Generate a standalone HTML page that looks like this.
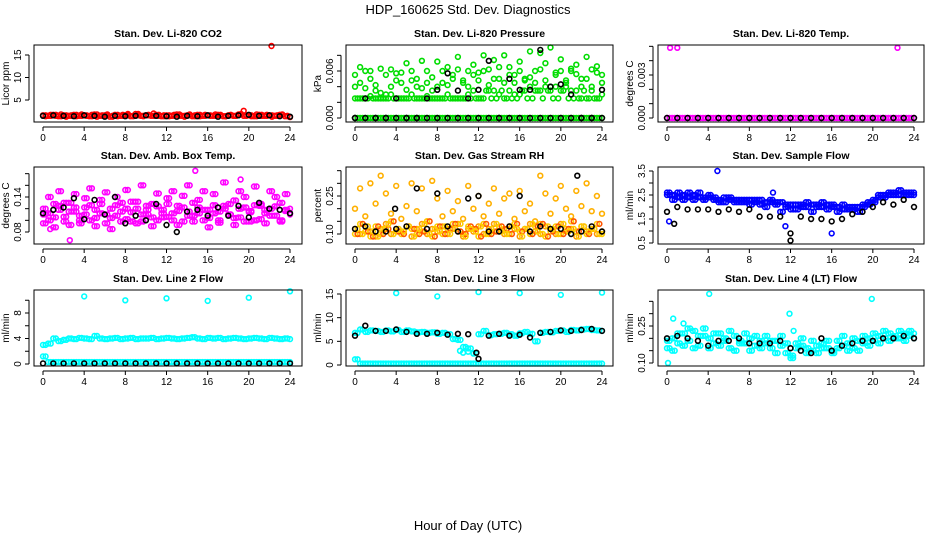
<!DOCTYPE html>
<html><head><meta charset="utf-8"><style>
body{margin:0;background:#fff;}
svg{display:block;font-family:"Liberation Sans",sans-serif;}
</style></head><body>
<svg id="chart" width="936" height="540" viewBox="0 0 936 540">
<text x="468" y="14" text-anchor="middle" font-size="13">HDP_160625  Std. Dev. Diagnostics</text>
<text x="468" y="530" text-anchor="middle" font-size="13">Hour of Day (UTC)</text>
</svg>
<script>
const H=[0,0.5,1,1.5,2,2.5,3,3.5,4,4.5,5,5.5,6,6.5,7,7.5,8,8.5,9,9.5,10,10.5,11,11.5,12,12.5,13,13.5,14,14.5,15,15.5,16,16.5,17,17.5,18,18.5,19,19.5,20,20.5,21,21.5,22,22.5,23,23.5,24];
const Hq=[0.25,0.75,1.25,1.75,2.25,2.75,3.25,3.75,4.25,4.75,5.25,5.75,6.25,6.75,7.25,7.75,8.25,8.75,9.25,9.75,10.25,10.75,11.25,11.75,12.25,12.75,13.25,13.75,14.25,14.75,15.25,15.75,16.25,16.75,17.25,17.75,18.25,18.75,19.25,19.75,20.25,20.75,21.25,21.75,22.25,22.75,23.25,23.75];
const H1=[0,1,2,3,4,5,6,7,8,9,10,11,12,13,14,15,16,17,18,19,20,21,22,23,24];
const co2Red=[1.6,1.5,1.7,1.4,1.6,1.5,1.7,1.5,1.6,1.4,1.8,1.5,1.6,1.3,1.7,1.5,1.6,1.4,1.9,1.5,1.6,1.5,1.7,1.4,1.6,1.5,1.8,1.5,1.6,1.4,1.7,1.5,1.6,1.5,1.7,1.4,1.6,1.5,1.8,1.5,1.6,1.4,1.7,1.5,1.6,1.5,1.7,1.4,1.2];
const co2Red2=[1.4,1.7,1.5,1.8,1.3,1.6,1.4,1.8,1.5,1.7,1.3,1.6,1.8,1.5,1.4,1.7,1.9,1.5,1.6,1.4,1.7,2.0,1.5,1.6,1.4,1.7,1.5,1.3,1.8,1.6,1.4,1.7,1.5,1.8,1.6,1.4,1.7,1.5,1.9,1.6,1.4,1.8,1.5,1.7,1.3,1.6,1.8,1.5];
const co2Black=[1.5,1.6,1.5,1.4,1.6,1.5,1.3,1.5,1.4,1.5,1.6,1.5,1.4,1.3,1.5,1.4,1.6,1.3,1.5,1.6,1.7,1.5,1.6,1.4,1.3];
const co2OutX=[19.5,22.2], co2OutY=[2.6,17.0];
const presZero=[0,0,0,0,0,0,0,0,0,0,0,0,0,0,0,0,0,0,0,0,0,0,0,0,0,0,0,0,0,0,0,0,0,0,0,0,0,0,0,0,0,0,0,0,0,0,0,0,0];
const presBand=[0.0025,0.0025,0.0025,0.0028,0.0025,0.0025,0.0025,0.0030,0.0025,0.0025,0.0025,0.0030,0.0025,0.0025,0.0028,0.0025,0.0025,0.0025,0.0030,0.0025,0.0025,0.0025,0.0030,0.0035,0.0025,0.0025,0.0035,0.0035,0.0030,0.0025,0.0035,0.0030,0.0030,0.0035,0.0040,0.0035,0.0035,0.0040,0.0035,0.0040,0.0035,0.0040,0.0035,0.0035,0.0025,0.0025,0.0035,0.0025,0.0030];
const presBand2=[0.0025,0.0025,0.0025,0.0025,0.0025,0.0025,0.0025,0.0025,0.0025,0.0025,0.0025,0.0025,0.0025,0.0025,0.0025,0.0025,0.0025,0.0025,0.0025,0.0025,0.0025,0.0025,0.0025,0.0025,0.0025,0.0035,0.0025,0.0025,0.0035,0.0025,0.0025,0.0025,0.0035,0.0025,0.0025,0.0035,0.0025,0.0035,0.0025,0.0025,0.0035,0.0025,0.0025,0.0025,0.0035,0.0025,0.0025,0.0025];
const presScatter=[0.0055,0.0065,0.0060,0.0050,0.0035,0.0063,0.0030,0.0062,0.0057,0.0045,0.0070,0.0048,0.0040,0.0073,0.0060,0.0035,0.0072,0.0045,0.0065,0.0055,0.0078,0.0048,0.0060,0.0068,0.0058,0.0080,0.0062,0.0074,0.0050,0.0080,0.0065,0.0055,0.0072,0.0050,0.0085,0.0060,0.0083,0.0070,0.0090,0.0058,0.0075,0.0045,0.0060,0.0068,0.0050,0.0078,0.0040,0.0066,0.0055];
const presScatter2=[0.0040,0.0045,0.0038,0.0060,0.0042,0.0032,0.0055,0.0040,0.0048,0.0058,0.0036,0.0060,0.0050,0.0038,0.0045,0.0052,0.0040,0.0060,0.0042,0.0050,0.0062,0.0045,0.0040,0.0055,0.0048,0.0060,0.0042,0.0050,0.0065,0.0045,0.0055,0.0045,0.0060,0.0048,0.0052,0.0045,0.0062,0.0048,0.0040,0.0055,0.0060,0.0048,0.0063,0.0056,0.0040,0.0050,0.0062,0.0058,0.0045];
const presBlack=[0,0.0025,0,0,0.0025,0,0,0.0025,0.0036,0.0057,0.0035,0.0025,0.0036,0.0073,0,0.0050,0.0036,0.0036,0.0087,0.0040,0.0043,0.0030,0,0,0.0036];
const presBlackZero=[0,0,0,0,0,0,0,0,0,0,0,0,0,0,0,0,0,0,0,0,0,0,0,0,0];
const tempOutX=[0.3,1.0,22.4], tempOutY=[0.0049,0.0049,0.0049];
const amb1=[0.120,0.112,0.105,0.125,0.098,0.130,0.115,0.108,0.122,0.100,0.118,0.135,0.110,0.104,0.126,0.115,0.120,0.098,0.132,0.110,0.118,0.105,0.124,0.112,0.128,0.100,0.116,0.122,0.108,0.130,0.112,0.118,0.104,0.126,0.115,0.120,0.110,0.134,0.105,0.122,0.116,0.100,0.128,0.112,0.120,0.108,0.130,0.118,0.112];
const amb2=[0.095,0.140,0.088,0.150,0.130,0.092,0.145,0.100,0.138,0.155,0.090,0.128,0.148,0.085,0.140,0.098,0.152,0.132,0.095,0.160,0.125,0.090,0.146,0.105,0.138,0.150,0.092,0.142,0.160,0.098,0.135,0.150,0.088,0.145,0.100,0.165,0.128,0.092,0.150,0.140,0.098,0.158,0.125,0.095,0.150,0.140,0.100,0.145,0.120];
const amb3=[0.110,0.100,0.128,0.118,0.106,0.115,0.122,0.095,0.110,0.126,0.104,0.112,0.095,0.120,0.108,0.130,0.102,0.114,0.120,0.098,0.110,0.128,0.100,0.118,0.106,0.112,0.125,0.098,0.115,0.108,0.122,0.100,0.118,0.112,0.096,0.125,0.110,0.104,0.120,0.098,0.114,0.126,0.102,0.118,0.108,0.124,0.098,0.116,0.110];
const ambOutX=[2.6,14.8,19.2,0.7], ambOutY=[0.066,0.185,0.170,0.085];
const ambBlack=[0.112,0.118,0.122,0.138,0.102,0.135,0.110,0.140,0.095,0.108,0.100,0.128,0.092,0.080,0.115,0.118,0.108,0.122,0.108,0.125,0.105,0.130,0.120,0.118,0.112];
const rh1=[0.12,0.10,0.13,0.11,0.09,0.12,0.14,0.10,0.12,0.11,0.13,0.09,0.12,0.14,0.10,0.12,0.11,0.13,0.10,0.12,0.14,0.09,0.12,0.11,0.13,0.10,0.12,0.14,0.11,0.10,0.13,0.12,0.09,0.12,0.14,0.11,0.10,0.13,0.12,0.10,0.14,0.11,0.12,0.09,0.13,0.11,0.12,0.10,0.11];
const rh2=[0.10,0.14,0.11,0.09,0.13,0.10,0.12,0.15,0.11,0.10,0.13,0.12,0.10,0.11,0.15,0.09,0.13,0.10,0.12,0.14,0.11,0.10,0.13,0.12,0.09,0.14,0.10,0.11,0.13,0.12,0.10,0.14,0.11,0.12,0.10,0.13,0.14,0.09,0.11,0.13,0.10,0.12,0.15,0.11,0.13,0.10,0.12,0.14,0.10];
const rhScatter=[0.20,0.28,0.17,0.30,0.22,0.33,0.26,0.18,0.29,0.16,0.21,0.30,0.19,0.28,0.15,0.31,0.24,0.17,0.27,0.19,0.23,0.16,0.29,0.20,0.25,0.17,0.22,0.28,0.18,0.24,0.26,0.16,0.27,0.19,0.22,0.15,0.33,0.26,0.18,0.24,0.29,0.20,0.17,0.27,0.21,0.30,0.19,0.25,0.18];
const rhBlack=[0.12,0.13,0.11,0.11,0.12,0.13,0.28,0.12,0.26,0.13,0.11,0.24,0.25,0.11,0.11,0.13,0.25,0.11,0.13,0.12,0.12,0.10,0.11,0.13,0.11];
const rhBlackOutX=[21.6,3.9], rhBlackOutY=[0.33,0.20];
const sfBlue=[2.5,2.5,2.4,2.5,2.4,2.5,2.4,2.4,2.4,2.3,2.3,2.4,2.3,2.3,2.3,2.2,2.3,2.2,2.3,2.2,2.2,2.1,2.2,2.0,1.9,2.1,2.1,2.0,2.1,2.0,2.0,2.1,2.0,2.0,1.9,2.0,1.9,2.0,2.1,2.1,2.3,2.4,2.5,2.5,2.6,2.5,2.6,2.5,2.5];
const sfBlue2=[2.6,2.3,2.6,2.3,2.6,2.3,2.6,2.3,2.5,2.4,2.2,2.2,2.4,2.2,2.2,2.3,2.1,2.3,2.1,2.0,2.3,2.2,1.8,2.1,2.1,1.9,2.0,2.2,1.8,2.1,2.2,1.9,2.1,1.8,2.1,1.9,2.0,1.8,2.0,2.2,2.2,2.5,2.4,2.6,2.5,2.7,2.5,2.6,2.6];
const sfOutX=[0.2,4.9,10.3,16.0,11.5], sfOutY=[1.4,3.5,2.6,0.9,1.2];
const sfBlack=[1.8,2.0,1.9,1.9,1.9,1.8,1.9,1.8,1.9,1.6,1.6,1.6,0.9,1.6,1.5,1.5,1.4,1.5,1.7,1.8,2.0,2.2,2.1,2.3,2.0];
const sfBlackOutX=[12,0.7], sfBlackOutY=[0.6,1.3];
const l2Band=[3.0,3.2,4.0,3.6,3.8,4.0,3.9,4.1,4.0,3.9,4.4,4.0,3.9,4.0,4.1,3.9,4.0,4.1,3.9,4.0,4.0,4.1,3.9,4.0,4.1,4.0,3.9,4.0,4.1,4.2,4.0,3.9,4.1,4.0,4.1,3.9,4.0,4.1,4.0,3.9,4.0,4.1,4.0,3.9,4.1,4.0,3.9,4.0,3.9];
const l2Base=[1.2,0.3,0.3,0.3,0.3,0.3,0.3,0.3,0.3,0.3,0.3,0.3,0.3,0.3,0.3,0.3,0.3,0.3,0.3,0.3,0.3,0.3,0.3,0.3,0.3,0.3,0.3,0.3,0.3,0.3,0.3,0.3,0.3,0.3,0.3,0.3,0.3,0.3,0.3,0.3,0.3,0.3,0.3,0.3,0.3,0.3,0.3,0.3,0.3];
const l2OutX=[4,8,12,16,20,24], l2OutY=[10.6,10.0,10.3,9.9,10.4,11.4];
const l2Black=[0.1,0.1,0.1,0.1,0.1,0.1,0.1,0.1,0.1,0.1,0.1,0.1,0.1,0.1,0.1,0.1,0.1,0.1,0.1,0.1,0.1,0.1,0.1,0.1,0.1];
const l3Band=[6.8,7.5,7.0,7.3,7.2,7.0,7.3,7.1,7.4,7.0,7.3,7.1,6.9,7.0,6.8,6.9,6.6,6.8,6.5,5.5,5.3,3.8,3.5,2.5,6.5,7.2,6.3,6.5,6.6,6.8,6.5,6.2,6.7,7.0,6.6,5.0,6.8,7.0,6.9,7.2,7.3,7.0,7.4,7.3,7.5,7.6,7.4,7.3,7.2];
const l3Base=[1.2,0.3,0.3,0.3,0.3,0.3,0.3,0.3,0.3,0.3,0.3,0.3,0.3,0.3,0.3,0.3,0.3,0.3,0.3,0.3,0.3,0.3,0.3,0.3,0.3,0.3,0.3,0.3,0.3,0.3,0.3,0.3,0.3,0.3,0.3,0.3,0.3,0.3,0.3,0.3,0.3,0.3,0.3,0.3,0.3,0.3,0.3,0.3,0.3];
const l3OutX=[4,8,12,16,20,24,10.2,10.5,11.0,11.5], l3OutY=[15.2,14.5,15.4,15.2,14.8,15.3,3.0,2.6,2.8,2.4];
const l3Black=[6.2,8.3,7.2,7.2,7.5,7.0,6.6,6.6,6.8,6.4,6.6,6.5,1.3,6.2,6.6,6.2,6.4,5.8,6.8,7.0,7.3,7.2,7.4,7.6,7.2];
const l3BlackOutX=[11.8], l3BlackOutY=[2.6];
const l4a=[0.16,0.20,0.18,0.22,0.19,0.23,0.17,0.21,0.20,0.18,0.22,0.19,0.16,0.21,0.19,0.18,0.20,0.17,0.19,0.18,0.16,0.19,0.17,0.14,0.13,0.18,0.17,0.16,0.15,0.17,0.18,0.16,0.15,0.19,0.17,0.18,0.16,0.19,0.18,0.20,0.19,0.21,0.20,0.22,0.21,0.20,0.22,0.21,0.20];
const l4b=[0.19,0.15,0.22,0.17,0.24,0.16,0.21,0.24,0.16,0.22,0.17,0.20,0.23,0.15,0.18,0.22,0.15,0.21,0.16,0.21,0.19,0.14,0.21,0.18,0.12,0.16,0.20,0.14,0.19,0.14,0.16,0.19,0.14,0.16,0.21,0.15,0.20,0.15,0.21,0.17,0.22,0.18,0.23,0.19,0.20,0.23,0.19,0.23,0.22];
const l4OutX=[0.1,0.6,4.1,11.9,12.3,19.9,1.6], l4OutY=[0.10,0.28,0.38,0.30,0.23,0.36,0.26];
const l4Black=[0.20,0.21,0.20,0.19,0.17,0.19,0.19,0.20,0.18,0.18,0.18,0.19,0.16,0.15,0.14,0.20,0.15,0.17,0.18,0.19,0.19,0.20,0.20,0.21,0.20];
const xTicks=[0,4,8,12,16,20,24];

const NS="http://www.w3.org/2000/svg";
const svg=document.getElementById('chart');
function mk(tag,attrs,parent){const e=document.createElementNS(NS,tag);for(const k in attrs)e.setAttribute(k,attrs[k]);(parent||svg).appendChild(e);return e;}
const cols=[{l:34,r:302,x0:43,x24:290},{l:346,r:613,x0:355,x24:602},{l:658,r:924,x0:667,x24:914}];
const rows=[{t:45,b:122},{t:167,b:244},{t:290,b:366}];
const panels=[
 {name:'co2',title:'Stan. Dev. Li-820 CO2',ylab:'Licor ppm',c:0,r:0,v0:5,p0:100,v1:15,p1:55,ticks:[5,10,15],labels:['5','10','15'],
  series:[[H,co2Red,'#ff0000'],[Hq,co2Red2,'#ff0000'],[Hq,co2Red,'#ff0000'],[co2OutX,co2OutY,'#ff0000'],[H1,co2Black,'#000']]},
 {name:'pressure',title:'Stan. Dev. Li-820 Pressure',ylab:'kPa',c:1,r:0,v0:0,p0:118,v1:0.006,p1:71,ticks:[0,0.002,0.004,0.006,0.008],labels:['0.000','','','0.006',''],
  series:[[H,presZero,'#00dd00'],[Hq,presZero,'#00dd00'],[H,presBand,'#00dd00'],[Hq,presBand2,'#00dd00'],[H,presScatter2,'#00dd00'],[H,presScatter,'#00dd00'],[H1,presBlackZero,'#000'],[H1,presBlack,'#000']]},
 {name:'temp',title:'Stan. Dev. Li-820 Temp.',ylab:'degrees C',c:2,r:0,v0:0,p0:118,v1:0.003,p1:75,ticks:[0,0.001,0.002,0.003,0.004,0.005],labels:['0.000','','','0.003','',''],
  series:[[H,presZero,'#ff00ff'],[Hq,presZero,'#ff00ff'],[tempOutX,tempOutY,'#ff00ff'],[H1,presBlackZero,'#000']]},
 {name:'amb-box',title:'Stan. Dev. Amb. Box Temp.',ylab:'degrees C',c:0,r:1,v0:0.08,p0:232,v1:0.14,p1:197,ticks:[0.08,0.10,0.12,0.14,0.16,0.18],labels:['0.08','','','0.14','',''],
  series:[[H,amb2,'#ff00ff'],[H,amb1,'#ff00ff'],[H,amb3,'#ff00ff'],[Hq,amb1,'#ff00ff'],[Hq,amb3,'#ff00ff'],[Hq,amb2,'#ff00ff'],[ambOutX,ambOutY,'#ff00ff'],[H1,ambBlack,'#000']]},
 {name:'gas-rh',title:'Stan. Dev. Gas Stream RH',ylab:'percent',c:1,r:1,v0:0.10,p0:234,v1:0.25,p1:196,ticks:[0.10,0.15,0.20,0.25,0.30,0.35],labels:['0.10','','','0.25','',''],
  series:[[H,rhScatter,'#ffb000'],[H,rh1,'#ff9900'],[H,rh2,'#ffcc00'],[Hq,rh2,'#ff5500'],[Hq,rh1,'#ffcc00'],[H1,rhBlack,'#000'],[rhBlackOutX,rhBlackOutY,'#000']]},
 {name:'sample-flow',title:'Stan. Dev. Sample Flow',ylab:'ml/min',c:2,r:1,v0:0.5,p0:243,v1:3.5,p1:171,ticks:[0.5,1,1.5,2,2.5,3,3.5],labels:['0.5','','1.5','','2.5','','3.5'],
  series:[[H,sfBlue2,'#0000ff'],[H,sfBlue,'#0000ff'],[Hq,sfBlue,'#0000ff'],[Hq,sfBlue2,'#0000ff'],[sfOutX,sfOutY,'#0000ff'],[H1,sfBlack,'#000'],[sfBlackOutX,sfBlackOutY,'#000']]},
 {name:'line2',title:'Stan. Dev. Line 2 Flow',ylab:'ml/min',c:0,r:2,v0:0,p0:364,v1:8,p1:313,ticks:[0,2,4,6,8,10],labels:['0','','4','','8',''],
  series:[[H,l2Band,'#00ffff'],[Hq,l2Band,'#00ffff'],[H,l2Base,'#00ffff'],[Hq,l2Base,'#00ffff'],[l2OutX,l2OutY,'#00ffff'],[H1,l2Black,'#000']]},
 {name:'line3',title:'Stan. Dev. Line 3 Flow',ylab:'ml/min',c:1,r:2,v0:0,p0:365,v1:15,p1:294,ticks:[0,5,10,15],labels:['0','5','10','15'],
  series:[[H,l3Band,'#00ffff'],[Hq,l3Band,'#00ffff'],[H,l3Base,'#00ffff'],[Hq,l3Base,'#00ffff'],[l3OutX,l3OutY,'#00ffff'],[H1,l3Black,'#000'],[l3BlackOutX,l3BlackOutY,'#000']]},
 {name:'line4',title:'Stan. Dev. Line 4 (LT) Flow',ylab:'ml/min',c:2,r:2,v0:0.10,p0:363,v1:0.25,p1:326,ticks:[0.10,0.15,0.20,0.25,0.30,0.35],labels:['0.10','','','0.25','',''],
  series:[[H,l4b,'#00ffff'],[H,l4a,'#00ffff'],[Hq,l4a,'#00ffff'],[Hq,l4b,'#00ffff'],[l4OutX,l4OutY,'#00ffff'],[H1,l4Black,'#000']]}
];
panels.forEach(p=>{
  const C=cols[p.c],R=rows[p.r];
  const g=mk('g',{});
  
  
  const xs=v=>C.x0+(C.x24-C.x0)*v/24;
  const ys=v=>p.p0+(p.p1-p.p0)*(v-p.v0)/(p.v1-p.v0);
  const t=mk('text',{x:(C.l+C.r)/2,y:R.t-8,'text-anchor':'middle','font-size':'10.5','font-weight':'bold'},g);
  t.textContent=p.title;
  
  
  const clip=mk('g',{},g);
  p.series.forEach((s,si)=>{
    const sg=mk('g',{fill:'none',stroke:s[2],'stroke-width':'1.6'},clip);
    
    
    s[0].forEach((x,i)=>{
      const c=mk('circle',{cx:xs(x).toFixed(1),cy:ys(s[1][i]).toFixed(1),r:'2.4'},sg);
      
      
    });
  });
  const box=mk('rect',{x:C.l,y:R.t,width:C.r-C.l,height:R.b-R.t,fill:'none',stroke:'#000','stroke-width':'1'},g);
  
  
  const xa=mk('g',{},g);
  
  
  mk('line',{x1:xs(0),x2:xs(24),y1:R.b+5,y2:R.b+5,stroke:'#000'},xa);
  xTicks.forEach(v=>{
    mk('line',{x1:xs(v),x2:xs(v),y1:R.b+5,y2:R.b+9,stroke:'#000'},xa);
    const tl=mk('text',{x:xs(v),y:R.b+19,'text-anchor':'middle','font-size':'10'},xa);
    tl.textContent=v;
  });
  const ya=mk('g',{},g);
  
  
  const ax=C.l-5;
  mk('line',{x1:ax,x2:ax,y1:ys(p.ticks[0]),y2:ys(p.ticks[p.ticks.length-1]),stroke:'#000'},ya);
  p.ticks.forEach((v,i)=>{
    const y=ys(v);
    mk('line',{x1:ax-4,x2:ax,y1:y,y2:y,stroke:'#000'},ya);
    if(p.labels[i]){
      const tl=mk('text',{x:ax-8,y:y,'text-anchor':'middle','font-size':'10',transform:`rotate(-90 ${ax-8} ${y})`},ya);
      tl.textContent=p.labels[i];
    }
  });
  const yl=mk('text',{x:C.l-25,y:(R.t+R.b)/2,'text-anchor':'middle','font-size':'10',transform:`rotate(-90 ${C.l-25} ${(R.t+R.b)/2})`},g);
  yl.textContent=p.ylab;
  
  
});
</script>
</body></html>
